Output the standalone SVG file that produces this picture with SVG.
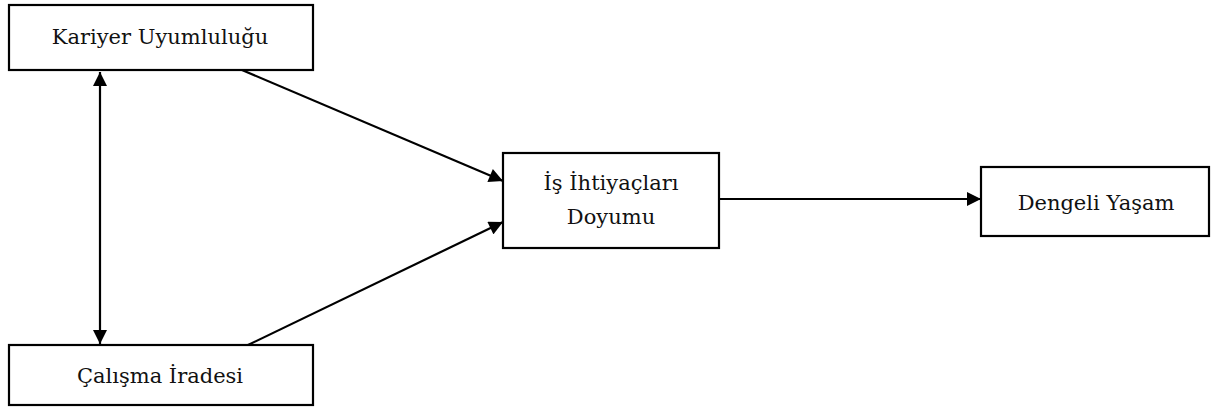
<svg xmlns="http://www.w3.org/2000/svg" width="1214" height="409" viewBox="0 0 1214 409">
<style>
.box{fill:#fff;stroke:#000;stroke-width:2.2}
.lbl{font-family:"DejaVu Serif","Liberation Serif",serif;font-size:21px;fill:#111;text-anchor:middle}
.con{stroke:#000;stroke-width:2.2;fill:none}
</style>
<defs>
<marker id="ah" viewBox="0 0 10 10" refX="10" refY="5" markerWidth="15" markerHeight="14" markerUnits="userSpaceOnUse" orient="auto-start-reverse">
<path d="M0,0 L10,5 L0,10 z" fill="#000"/>
</marker>
</defs>
<g id="connectors">
<line class="con" x1="100" y1="72" x2="100" y2="344" marker-start="url(#ah)" marker-end="url(#ah)"/>
<line class="con" x1="242" y1="70" x2="503" y2="181" marker-end="url(#ah)"/>
<line class="con" x1="248" y1="345" x2="503" y2="222" marker-end="url(#ah)"/>
<line class="con" x1="719" y1="199" x2="981" y2="199" marker-end="url(#ah)"/>
</g>
<g id="kariyer">
<rect class="box" x="9" y="5" width="304" height="65"/>
<text class="lbl" x="160" y="44">Kariyer Uyumluluğu</text>
</g>
<g id="calisma">
<rect class="box" x="9" y="345" width="304" height="60"/>
<text class="lbl" x="160" y="383">Çalışma İradesi</text>
</g>
<g id="ihtiyac">
<rect class="box" x="503" y="153" width="216" height="95"/>
<text class="lbl" x="611" y="190">İş İhtiyaçları</text>
<text class="lbl" x="611" y="224">Doyumu</text>
</g>
<g id="dengeli">
<rect class="box" x="981" y="167" width="228" height="69"/>
<text class="lbl" x="1096" y="210">Dengeli Yaşam</text>
</g>
</svg>
